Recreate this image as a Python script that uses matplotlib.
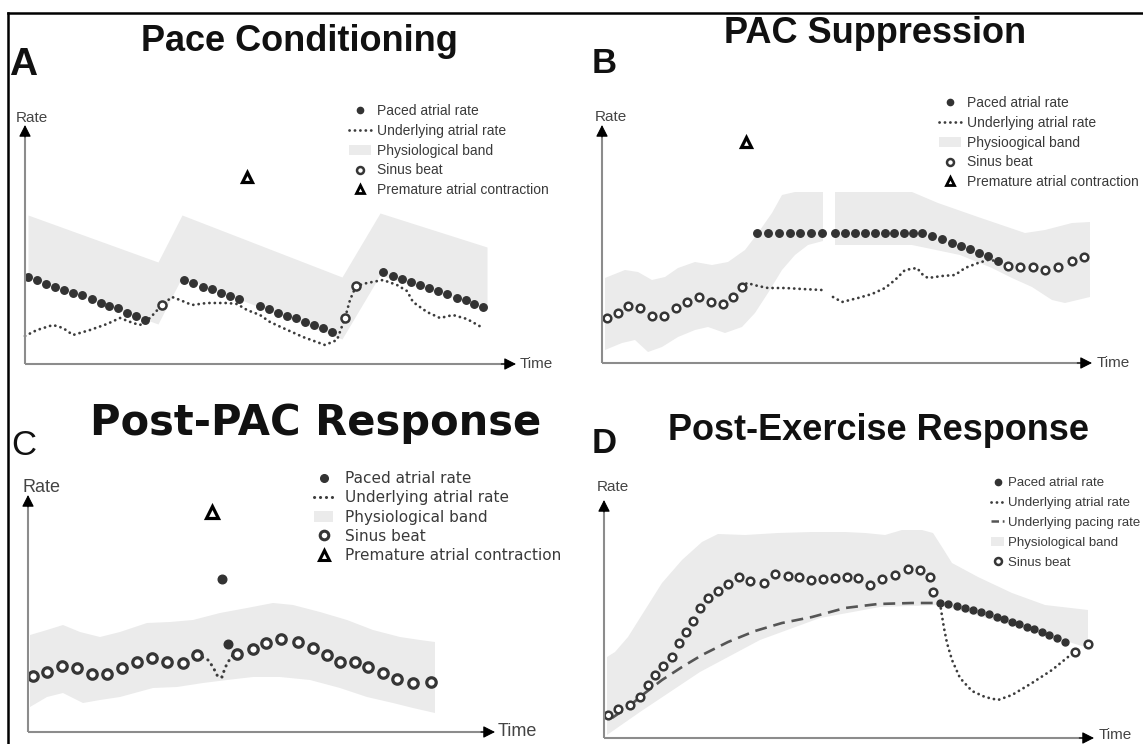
import matplotlib
matplotlib.use('Agg')
import matplotlib.pyplot as plt
from matplotlib.lines import Line2D
from matplotlib.patches import Patch

# ---------------- data (time units / rate units, per panel) ----------------
# Panel A: Pace Conditioning
a_band_t = [3, 133, 157, 317, 355, 462]
a_band_hi = [149, 102, 149, 87, 151, 117]
a_band_lo = [87, 40, 87, 25, 89, 55]
a_paced1_t = [3, 12, 21, 30, 39, 48, 57, 67, 76, 84, 93, 102, 111, 120]
a_paced1_r = [87, 84, 80, 77, 74, 71, 69, 65, 61, 58, 56, 51, 48, 44]
a_paced2_t = [159, 168, 178, 187, 196, 205, 214, 235, 244, 253, 262, 271, 280, 289, 298, 307]
a_paced2_r = [84, 81, 77, 75, 71, 68, 65, 58, 55, 51, 48, 46, 42, 39, 36, 32]
a_paced3_t = [358, 368, 377, 386, 395, 404, 413, 422, 432, 441, 449, 458]
a_paced3_r = [92, 88, 85, 82, 79, 76, 73, 70, 66, 64, 60, 57]
a_sinus_t = [137, 320, 331]
a_sinus_r = [59, 46, 78]
a_under_t = [0, 12, 28, 38, 48, 65, 82, 95, 108, 115, 125, 137, 147, 155, 167, 182, 202, 212,
             222, 235, 245, 258, 278, 300, 312, 320, 325, 331, 342, 358, 372, 382, 388, 402,
             415, 428, 442, 458]
a_under_r = [28, 34, 39, 36, 29, 34, 40, 46, 41, 39, 46, 59, 67, 64, 59, 61, 61, 60,
             54, 49, 42, 36, 27, 19, 24, 46, 64, 78, 81, 84, 79, 73, 62, 52,
             46, 49, 45, 36]
a_pac_t = [222]
a_pac_r = [187]

# Panel B: PAC Suppression
b_bandL_hi_t = [3, 23, 36, 50, 63, 76, 93, 110, 126, 143, 156, 170, 180, 193, 221]
b_bandL_hi = [85, 93, 91, 83, 86, 95, 101, 98, 101, 113, 130, 150, 168, 171, 171]
b_bandL_lo_t = [3, 20, 33, 46, 60, 76, 93, 106, 123, 140, 153, 166, 180, 193, 206, 221]
b_bandL_lo = [13, 20, 23, 11, 16, 26, 33, 36, 30, 36, 50, 70, 93, 108, 118, 122]
b_bandR_hi_t = [233, 310, 336, 376, 423, 443, 470, 488]
b_bandR_hi = [171, 171, 160, 146, 130, 133, 140, 141]
b_bandR_lo_t = [233, 310, 358, 390, 410, 430, 450, 463, 488]
b_bandR_lo = [118, 118, 108, 95, 85, 76, 63, 60, 66]
b_paced_t = [155, 166, 177, 188, 198, 209, 220, 233, 243, 253, 263, 273, 283, 292, 302, 311,
             320, 330, 340, 350, 359, 368, 377, 386, 396]
b_paced_r = [130, 130, 130, 130, 130, 130, 130, 130, 130, 130, 130, 130, 130, 130, 130, 130,
             130, 127, 124, 120, 117, 114, 110, 107, 102]
b_sinus_t = [5, 16, 26, 38, 50, 62, 74, 85, 97, 109, 121, 131, 140, 406, 418, 431, 443, 456, 470, 482]
b_sinus_r = [45, 50, 57, 55, 47, 47, 55, 61, 66, 61, 59, 66, 76, 97, 96, 96, 93, 96, 102, 106]
b_underL_t = [140, 145, 156, 166, 183, 200, 220]
b_underL_r = [76, 80, 77, 75, 75, 74, 73]
b_underR_t = [231, 240, 256, 270, 283, 293, 303, 315, 321, 326, 340, 353, 363, 376, 386, 396]
b_underR_r = [66, 61, 65, 69, 75, 83, 93, 95, 88, 85, 87, 88, 95, 100, 103, 102]
b_pac_t = [144]
b_pac_r = [221]

# Panel C: Post-PAC Response
c_band_hi_t = [2, 19, 35, 52, 72, 92, 119, 142, 165, 192, 219, 245, 265, 292, 319, 345, 372, 392, 407]
c_band_hi = [97, 102, 107, 100, 95, 100, 109, 110, 112, 119, 124, 129, 127, 120, 112, 102, 95, 92, 90]
c_band_lo_t = [2, 19, 35, 55, 72, 92, 125, 149, 175, 199, 225, 252, 282, 312, 339, 365, 385, 407]
c_band_lo = [25, 35, 39, 29, 32, 35, 44, 45, 49, 52, 55, 55, 52, 44, 35, 29, 24, 19]
c_sinus_t = [5, 19, 34, 49, 64, 79, 94, 109, 124, 139, 155, 169, 209, 225, 238, 253, 270, 285,
             299, 312, 327, 340, 355, 369, 385, 403]
c_sinus_r = [56, 60, 66, 64, 58, 58, 64, 70, 74, 70, 69, 77, 78, 83, 89, 93, 90, 84,
             77, 70, 70, 65, 59, 53, 49, 50]
c_paced_t = [194, 200]
c_paced_r = [153, 88]
c_under_t = [169, 174, 180, 185, 190, 194, 197, 200, 205, 209]
c_under_r = [77, 75, 72, 65, 55, 55, 64, 70, 77, 78]
c_pac_t = [184]
c_pac_r = [220]

# Panel D: Post-Exercise Response
d_band_hi_t = [3, 11, 24, 41, 58, 78, 98, 114, 141, 174, 208, 241, 261, 281, 298, 318, 329, 338,
               348, 374, 408, 441, 484]
d_band_hi = [81, 86, 101, 128, 155, 178, 196, 204, 203, 205, 206, 206, 205, 203, 208, 208, 205, 191,
             175, 161, 145, 133, 128]
d_band_lo_t = [3, 36, 96, 156, 216, 276, 336, 396, 446, 484]
d_band_lo = [3, 26, 66, 98, 120, 131, 133, 116, 102, 90]
d_sinus_t = [4, 14, 26, 36, 44, 51, 59, 68, 75, 82, 89, 96, 104, 114, 124, 135, 146, 160, 171, 184,
             195, 207, 219, 231, 243, 254, 266, 278, 291, 304, 316, 326, 329, 471, 484]
d_sinus_r = [23, 29, 33, 41, 53, 63, 72, 81, 95, 106, 117, 130, 140, 147, 154, 161, 157, 155, 164, 162,
             161, 158, 159, 160, 161, 160, 153, 159, 163, 169, 168, 161, 146, 86, 94]
d_paced_t = [336, 344, 353, 361, 369, 377, 385, 393, 400, 408, 415, 423, 430, 438, 445, 453, 461]
d_paced_r = [135, 134, 132, 130, 128, 126, 124, 121, 119, 116, 114, 111, 109, 106, 103, 100, 96]
d_under_t = [336, 338, 340, 343, 348, 356, 368, 381, 394, 408, 428, 448, 464, 471]
d_under_r = [135, 122, 110, 95, 78, 60, 47, 41, 38, 43, 55, 68, 81, 86]
d_pacing_t = [8, 24, 41, 58, 78, 98, 124, 151, 178, 208, 241, 274, 308, 333]
d_pacing_r = [20, 31, 45, 58, 71, 83, 96, 107, 115, 121, 130, 134, 135, 135]

titles = ['Pace Conditioning', 'PAC Suppression', 'Post-PAC Response', 'Post-Exercise Response']
letters = ['A', 'B', 'C', 'D']
labels_abc = ['Paced atrial rate', 'Underlying atrial rate', 'Physiological band', 'Sinus beat',
              'Premature atrial contraction']
labels_b = ['Paced atrial rate', 'Underlying atrial rate', 'Physioogical band', 'Sinus beat',
            'Premature atrial contraction']
labels_d = ['Paced atrial rate', 'Underlying atrial rate', 'Underlying pacing rate',
            'Physiological band', 'Sinus beat']

# ---------------- styling ----------------
W, H = 1143, 744
BAND = '#ebebeb'
DOT = '#333333'
LINE = '#3c3c3c'
AXC = '#8c8c8c'
TXT = '#3a3a3a'
SANS = 'Liberation Sans'
DOTTED = (0, (0.05, 1.9))

fig = plt.figure(figsize=(W / 100, H / 100), dpi=100)


def fx(x):
    return x / W


def fy(y):
    return 1 - y / H


def make_axes(x0, y0, x1, ytop):
    ax = fig.add_axes([fx(x0), fy(y0), (x1 - x0) / W, (y0 - ytop) / H])
    ax.set_xlim(0, x1 - x0)
    ax.set_ylim(0, y0 - ytop)
    ax.axis('off')
    ax.plot([0, 0], [0, 0.97], transform=ax.transAxes, color=AXC, lw=1.5,
            clip_on=False, zorder=6, solid_capstyle='butt')
    ax.plot([0, 0.985], [0, 0], transform=ax.transAxes, color=AXC, lw=1.5,
            clip_on=False, zorder=6, solid_capstyle='butt')
    ap = dict(arrowstyle='-|>,head_length=0.55,head_width=0.28', color='black', lw=0.8,
              mutation_scale=13, shrinkA=0, shrinkB=0)
    ax.annotate('', xy=(0, 1), xytext=(0, 0.95), xycoords='axes fraction', arrowprops=ap,
                zorder=7, annotation_clip=False)
    ax.annotate('', xy=(1, 0), xytext=(0.97, 0), xycoords='axes fraction', arrowprops=ap,
                zorder=7, annotation_clip=False)
    return ax


def paced(ax, t, r, ms):
    return ax.plot(t, r, 'o', ms=ms, color=DOT, mec=DOT, ls='none', zorder=3, clip_on=False)[0]


def sinus(ax, t, r, ms, mew):
    return ax.plot(t, r, 'o', ms=ms, mfc='white', mec='#363636', mew=mew, ls='none',
                   zorder=4, clip_on=False)[0]


def under(ax, t, r, lw=2.0):
    return ax.plot(t, r, ls=DOTTED, color=LINE, lw=lw, zorder=2,
                   dash_capstyle='round', clip_on=False)[0]


def pac(ax, t, r, ms=7.5):
    return ax.plot(t, r, '^', ms=ms, mfc='white', mec='black', mew=2.3, ls='none', zorder=5,
                   clip_on=False)[0]


def style_legend(leg):
    for t in leg.get_texts():
        t.set_color(TXT)


# ---------------- Panel A ----------------
axA = make_axes(25, 364, 516, 125)
axA.fill_between(a_band_t, a_band_lo, a_band_hi, color=BAND, lw=0, zorder=1)
under(axA, a_under_t, a_under_r)
paced(axA, a_paced1_t, a_paced1_r, 5.4)
paced(axA, a_paced2_t, a_paced2_r, 5.4)
paced(axA, a_paced3_t, a_paced3_r, 5.4)
sinus(axA, a_sinus_t, a_sinus_r, 5.8, 1.8)
pac(axA, a_pac_t, a_pac_r, 7)

kP = Line2D([], [], marker='o', ls='none', ms=4.5, color=DOT)
kU = Line2D([], [], ls=DOTTED, lw=2.0, color=LINE, dash_capstyle='round')
kB = Patch(facecolor=BAND, edgecolor='none')
kS = Line2D([], [], marker='o', ls='none', ms=5, mfc='white', mec='#363636', mew=1.8)
kT = Line2D([], [], marker='^', ls='none', ms=6, mfc='white', mec='black', mew=2.0)
kD = Line2D([], [], ls=(0, (3, 1.5)), lw=1.8, color='#555555')

legA = axA.legend([kP, kU, kB, kS, kT], labels_abc, loc='upper left',
                  bbox_to_anchor=(fx(349), fy(104)), bbox_transform=fig.transFigure,
                  frameon=False, prop={'family': SANS, 'size': 10}, handlelength=1.6,
                  handletextpad=0.45, labelspacing=0.42, borderpad=0, borderaxespad=0)
style_legend(legA)

# ---------------- Panel B ----------------
axB = make_axes(602, 363, 1092, 125)
axB.fill(b_bandL_hi_t + b_bandL_lo_t[::-1], b_bandL_hi + b_bandL_lo[::-1], color=BAND, lw=0, zorder=1)
axB.fill(b_bandR_hi_t + b_bandR_lo_t[::-1], b_bandR_hi + b_bandR_lo[::-1], color=BAND, lw=0, zorder=1)
under(axB, b_underL_t, b_underL_r)
under(axB, b_underR_t, b_underR_r)
paced(axB, b_paced_t, b_paced_r, 5.4)
sinus(axB, b_sinus_t, b_sinus_r, 5.5, 1.8)
pac(axB, b_pac_t, b_pac_r, 7)

legB = axB.legend([kP, kU, kB, kS, kT], labels_b, loc='upper left',
                  bbox_to_anchor=(fx(939), fy(96)), bbox_transform=fig.transFigure,
                  frameon=False, prop={'family': SANS, 'size': 10}, handlelength=1.6,
                  handletextpad=0.45, labelspacing=0.42, borderpad=0, borderaxespad=0)
style_legend(legB)

# ---------------- Panel C ----------------
axC = make_axes(28, 732, 495, 495)
axC.fill(c_band_hi_t + c_band_lo_t[::-1], c_band_hi + c_band_lo[::-1], color=BAND, lw=0, zorder=1)
under(axC, c_under_t, c_under_r, lw=2.2)
paced(axC, c_paced_t, c_paced_r, 6.2)
sinus(axC, c_sinus_t, c_sinus_r, 6.8, 2.3)
pac(axC, c_pac_t, c_pac_r, 8)

kPc = Line2D([], [], marker='o', ls='none', ms=5.5, color=DOT)
kSc = Line2D([], [], marker='o', ls='none', ms=6.2, mfc='white', mec='#363636', mew=2.2)
kTc = Line2D([], [], marker='^', ls='none', ms=7, mfc='white', mec='black', mew=2.2)
kUc = Line2D([], [], ls=DOTTED, lw=2.2, color=LINE, dash_capstyle='round')
legC = axC.legend([kPc, kUc, kB, kSc, kTc], labels_abc, loc='upper left',
                  bbox_to_anchor=(fx(314), fy(471)), bbox_transform=fig.transFigure,
                  frameon=False, prop={'family': 'DejaVu Sans', 'size': 11}, handlelength=1.25,
                  handletextpad=0.75, labelspacing=0.28, borderpad=0, borderaxespad=0)
style_legend(legC)

# ---------------- Panel D ----------------
axD = make_axes(604, 738, 1094, 500)
axD.fill(d_band_hi_t + d_band_lo_t[::-1], d_band_hi + d_band_lo[::-1], color=BAND, lw=0, zorder=1)
axD.plot(d_pacing_t, d_pacing_r, ls=(0, (4.5, 2.6)), color='#555555', lw=1.9, zorder=2)
under(axD, d_under_t, d_under_r)
paced(axD, d_paced_t, d_paced_r, 5.0)
sinus(axD, d_sinus_t, d_sinus_r, 5.5, 1.8)

legD = axD.legend([kP, kU, kD, kB, kS], labels_d, loc='upper left',
                  bbox_to_anchor=(fx(991), fy(477)), bbox_transform=fig.transFigure,
                  frameon=False, prop={'family': SANS, 'size': 9.5}, handlelength=1.0,
                  handletextpad=0.3, labelspacing=0.58, borderpad=0, borderaxespad=0)
style_legend(legD)

# ---------------- titles, letters, axis words ----------------
fig.text(fx(299), fy(51), titles[0], ha='center', va='baseline', fontsize=26,
         fontweight='bold', family=SANS, color='#111111')
fig.text(fx(875), fy(43), titles[1], ha='center', va='baseline', fontsize=26,
         fontweight='bold', family=SANS, color='#111111')
fig.text(fx(316), fy(435), titles[2], ha='center', va='baseline', fontsize=30,
         fontweight='bold', family='DejaVu Sans', color='#111111')
fig.text(fx(878), fy(440), titles[3], ha='center', va='baseline', fontsize=26,
         fontweight='bold', family=SANS, color='#111111')

fig.text(fx(9), fy(75), letters[0], ha='left', va='baseline', fontsize=28, fontweight='bold',
         family=SANS, color='#111111')
fig.text(fx(592), fy(73), letters[1], ha='left', va='baseline', fontsize=25, fontweight='bold',
         family=SANS, color='#111111')
fig.text(fx(11), fy(455), letters[2], ha='left', va='baseline', fontsize=25, fontweight='normal',
         family=SANS, color='#111111')
fig.text(fx(592), fy(453), letters[3], ha='left', va='baseline', fontsize=25, fontweight='bold',
         family=SANS, color='#111111')

for (x, y, s) in [(16, 122, 11), (595, 121, 11), (22, 492, 13), (597, 491, 11)]:
    fig.text(fx(x), fy(y), 'Rate', ha='left', va='baseline', fontsize=s, family=SANS, color='#444444')
for (x, y, s) in [(520, 364, 11), (1097, 363, 11), (498, 732, 13), (1099, 735, 11)]:
    fig.text(fx(x), fy(y), 'Time', ha='left', va='center', fontsize=s, family=SANS, color='#444444')

# frame lines of the original figure
fig.add_artist(Line2D([fx(8), 1], [fy(13), fy(13)], transform=fig.transFigure, color='black', lw=1.8))
fig.add_artist(Line2D([fx(8), fx(8)], [fy(13), 0], transform=fig.transFigure, color='black', lw=1.8))

fig.savefig('out.png', dpi=100)
